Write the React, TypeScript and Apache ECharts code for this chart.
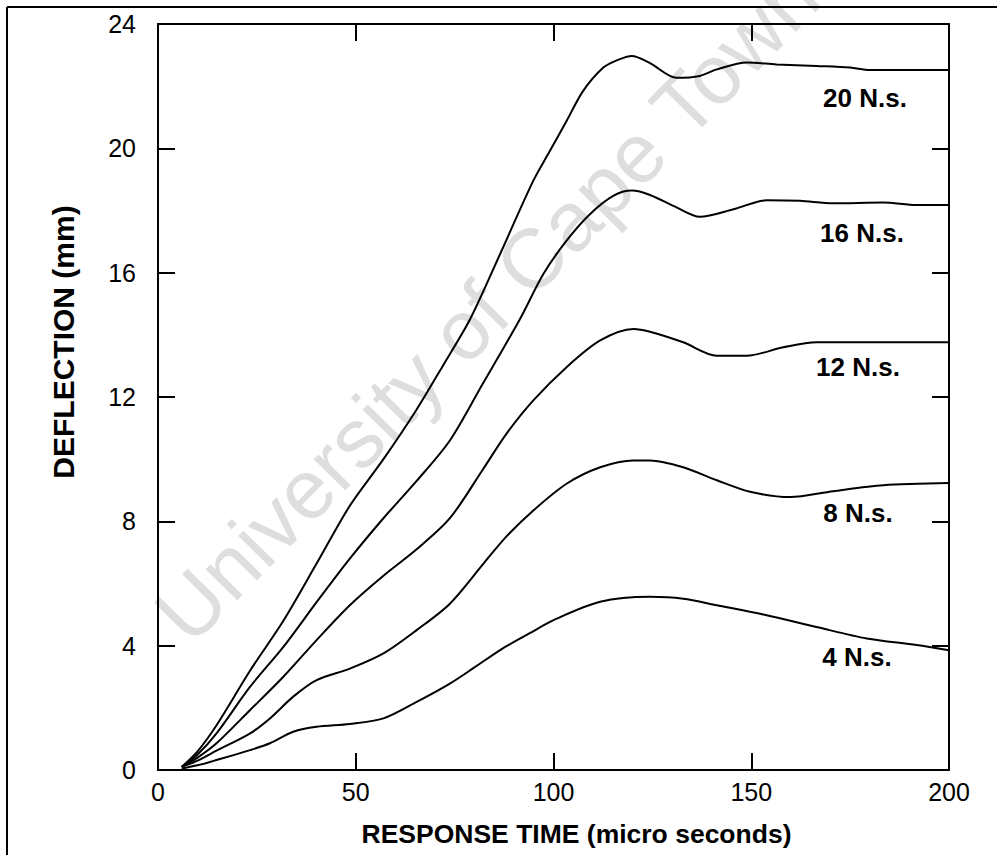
import React, { useEffect, useRef } from "react";
import * as echarts from "echarts";

// Response time (micro seconds) / deflection (mm) pairs for each impulse
const t20 = [6, 10, 14.8, 23.3, 31.7, 40.1, 48.5, 57, 65.4, 72, 78.9, 86.5, 94.9, 99.1, 103.3, 107.5, 112.6, 116, 119.8, 124.4, 131.1, 137, 141.3, 148.9, 156.4, 166.5, 175, 180, 200];
const d20 = [0.1, 0.6, 1.44, 3.2, 4.8, 6.64, 8.5, 10.0, 11.6, 13.0, 14.5, 16.6, 18.96, 19.92, 20.88, 21.85, 22.6, 22.83, 22.97, 22.74, 22.27, 22.33, 22.54, 22.76, 22.7, 22.65, 22.6, 22.52, 22.52];

const t16 = [6, 10, 14.8, 23.3, 31.7, 40.1, 48.5, 57, 65.4, 73.8, 82, 91.5, 97.4, 103.3, 109.2, 115.1, 119.8, 124.4, 131.1, 137, 145.5, 153.9, 162.3, 170.7, 183.4, 191.8, 200];
const d16 = [0.1, 0.5, 1.18, 2.68, 3.96, 5.4, 6.8, 8.1, 9.3, 10.6, 12.4, 14.5, 15.95, 17.03, 17.88, 18.47, 18.64, 18.5, 18.1, 17.8, 18.04, 18.33, 18.31, 18.23, 18.26, 18.18, 18.18];

const t12 = [6, 10, 14.8, 23.3, 31.7, 40.1, 48.5, 57, 65.4, 73.8, 82.3, 88, 94.9, 103.3, 111.8, 120.2, 124.4, 132.8, 141.3, 148.9, 158.1, 166.5, 200];
const d12 = [0.1, 0.4, 0.86, 1.93, 3.0, 4.18, 5.3, 6.25, 7.1, 8.1, 9.7, 10.8, 11.89, 12.96, 13.82, 14.19, 14.1, 13.76, 13.33, 13.33, 13.6, 13.76, 13.76];

const t8 = [6, 10, 14.8, 23.3, 28.3, 34.2, 40.1, 48.5, 57, 65.4, 73.8, 82.3, 88, 94.9, 103.3, 111.8, 120.2, 124.4, 132.8, 141.3, 149.7, 159.8, 170.7, 183.4, 200];
const d8 = [0.1, 0.3, 0.62, 1.18, 1.66, 2.36, 2.89, 3.26, 3.75, 4.5, 5.35, 6.64, 7.5, 8.35, 9.21, 9.74, 9.96, 9.96, 9.74, 9.32, 8.95, 8.78, 8.97, 9.16, 9.23];

const t4 = [6, 10, 14.8, 23.3, 28.3, 34.2, 40.1, 48.5, 57, 65.4, 73.8, 80, 87, 94, 100, 111.8, 124.4, 132.8, 141.3, 153.9, 166.5, 179.2, 191.8, 200];
const d4 = [0.05, 0.15, 0.32, 0.64, 0.86, 1.23, 1.39, 1.48, 1.66, 2.19, 2.78, 3.3, 3.9, 4.4, 4.82, 5.41, 5.57, 5.51, 5.3, 4.98, 4.6, 4.23, 4.02, 3.85];

const curveNames = ["20 N.s.", "16 N.s.", "12 N.s.", "8 N.s.", "4 N.s."];
const xTicks = [0, 50, 100, 150, 200];
const yTicks = [0, 4, 8, 12, 16, 20, 24];

const zip = (t: number[], d: number[]) => t.map((v, i) => [v, d[i]]);

export default function App() {
  const ref = useRef<HTMLDivElement>(null);
  useEffect(() => {
    if (!ref.current) return;
    const chart = echarts.init(ref.current, null, { renderer: "svg" });
    const font = "'Liberation Sans', Arial, sans-serif";
    const seriesData = [zip(t20, d20), zip(t16, d16), zip(t12, d12), zip(t8, d8), zip(t4, d4)];
    const labelPos = [
      [865, 98],
      [862, 233],
      [858, 367],
      [858, 513],
      [857, 657],
    ];
    const tickStyle = { show: true, inside: true, length: 17, lineStyle: { color: "#000", width: 2 } };
    const axisLine = { show: true, onZero: false, lineStyle: { color: "#000", width: 2 } };
    chart.setOption({
      animation: false,
      backgroundColor: "#fff",
      textStyle: { fontFamily: font },
      grid: { left: 158, right: 48, top: 24, bottom: 85 },
      xAxis: [
        {
          type: "value",
          min: xTicks[0],
          max: xTicks[xTicks.length - 1],
          interval: 50,
          position: "bottom",
          name: "RESPONSE TIME (micro seconds)",
          nameLocation: "middle",
          nameGap: 50,
          nameTextStyle: { fontSize: 26.5, fontWeight: "bold", color: "#000", fontFamily: font, padding: [0, 0, 0, 46] },
          axisLine,
          axisTick: tickStyle,
          axisLabel: { fontSize: 25, color: "#000", margin: 9, fontFamily: font },
          splitLine: { show: false },
        },
        {
          type: "value",
          min: xTicks[0],
          max: xTicks[xTicks.length - 1],
          interval: 50,
          position: "top",
          axisLine,
          axisTick: tickStyle,
          axisLabel: { show: false },
          splitLine: { show: false },
        },
      ],
      yAxis: [
        {
          type: "value",
          min: yTicks[0],
          max: yTicks[yTicks.length - 1],
          interval: 4,
          position: "left",
          name: "DEFLECTION (mm)",
          nameLocation: "middle",
          nameRotate: 90,
          nameGap: 80,
          nameTextStyle: { fontSize: 30, fontWeight: "bold", color: "#000", fontFamily: font, padding: [0, 0, 0, 110] },
          axisLine,
          axisTick: tickStyle,
          axisLabel: { fontSize: 25, color: "#000", margin: 22, fontFamily: font },
          splitLine: { show: false },
        },
        {
          type: "value",
          min: yTicks[0],
          max: yTicks[yTicks.length - 1],
          interval: 4,
          position: "right",
          axisLine,
          axisTick: tickStyle,
          axisLabel: { show: false },
          splitLine: { show: false },
        },
      ],
      graphic: [
        {
          type: "text",
          x: 487,
          y: 305,
          rotation: (45.5 * Math.PI) / 180,
          z: -10,
          silent: true,
          style: {
            text: "University of Cape Town",
            fontSize: 84,
            fontFamily: font,
            fill: "#dedede",
            align: "center",
            verticalAlign: "middle",
          },
        },
        { type: "line", shape: { x1: 7, y1: 7, x2: 7, y2: 855 }, style: { stroke: "#000", lineWidth: 2 } },
        { type: "line", shape: { x1: 7, y1: 7, x2: 997, y2: 7 }, style: { stroke: "#000", lineWidth: 2 } },
        ...curveNames.map((n, i) => ({
          type: "text",
          x: labelPos[i][0],
          y: labelPos[i][1],
          style: {
            text: n,
            fontSize: 26,
            fontWeight: "bold",
            fontFamily: font,
            fill: "#000",
            align: "center",
            verticalAlign: "middle",
          },
        })),
      ],
      series: seriesData.map((d, i) => ({
        name: curveNames[i],
        type: "line",
        data: d,
        smooth: 0.3,
        showSymbol: false,
        lineStyle: { color: "#000", width: 2 },
        z: 5,
      })),
    });
    return () => chart.dispose();
  }, []);
  return (
    <div
      ref={ref}
      style={{ position: "fixed", left: 0, top: 0, width: 997, height: 855 }}
    />
  );
}
